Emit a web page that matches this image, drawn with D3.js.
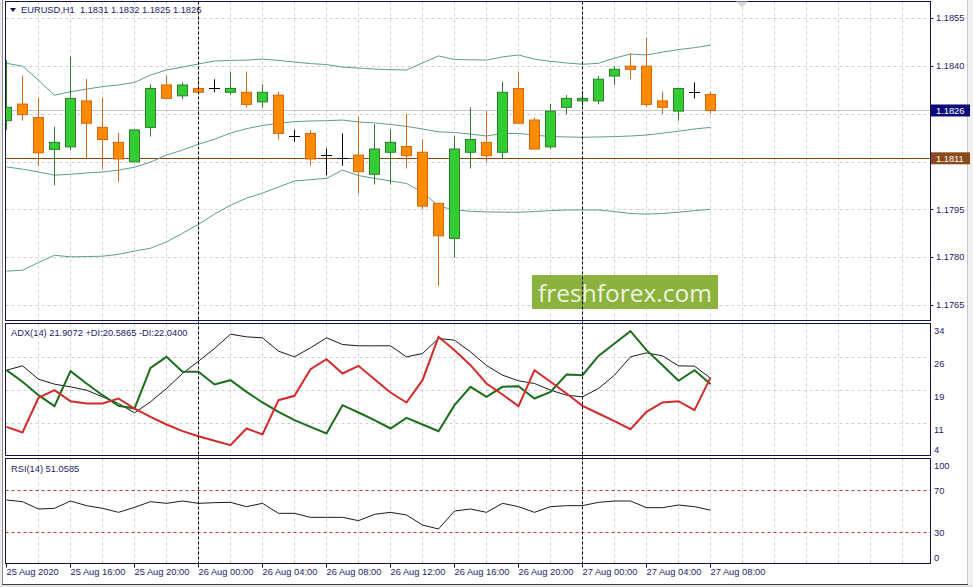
<!DOCTYPE html>
<html><head><meta charset="utf-8">
<script src="https://cdn.jsdelivr.net/npm/d3@7"></script>
<style>body{margin:0;background:#fff;} svg{display:block;font-family:"Liberation Sans",Arial,sans-serif;}</style>
</head><body><svg id="c" width="973" height="587"></svg>
<script>
// ---------------- DATA ----------------
const symbolTitle = "EURUSD,H1";
const lastOHLC = ["1.1831", "1.1832", "1.1825", "1.1826"];
const openP  = [1.18228,1.18280,1.18238,1.18138,1.18146,1.18290,1.18207,1.18160,1.18099,1.18207,1.18340,1.18306,1.18329,1.18329,1.18317,1.18317,1.18287,1.18308,1.18180,1.18188,1.18120,1.18110,1.18120,1.18060,1.18129,1.18147,1.18129,1.17969,1.17859,1.18129,1.18160,1.18129,1.18329,1.18230,1.18146,1.18270,1.18290,1.18290,1.18368,1.18399,1.18399,1.18290,1.18258,1.18319,1.1831];
const highP  = [1.18418,1.18369,1.18300,1.18209,1.18429,1.18359,1.18300,1.18190,1.18199,1.18342,1.18369,1.18348,1.18359,1.18358,1.18382,1.18382,1.18342,1.18319,1.18199,1.18199,1.18141,1.18188,1.18240,1.18217,1.18201,1.18249,1.18170,1.17969,1.18180,1.18270,1.18258,1.18350,1.18382,1.18238,1.18280,1.18308,1.18321,1.18368,1.18399,1.18439,1.18489,1.18319,1.18329,1.18348,1.1832];
const lowP   = [1.18199,1.18228,1.18087,1.18026,1.18136,1.18108,1.18076,1.18036,1.18099,1.18178,1.18298,1.18296,1.18317,1.18317,1.18308,1.18269,1.18269,1.18169,1.18162,1.18087,1.18057,1.18087,1.18000,1.18028,1.18028,1.18078,1.17950,1.17709,1.17798,1.18078,1.18099,1.18108,1.18220,1.18139,1.18138,1.18248,1.18272,1.18279,1.18340,1.18358,1.18270,1.18248,1.18228,1.18298,1.1825];
const closeP = [1.18270,1.18247,1.18127,1.18160,1.18298,1.18220,1.18169,1.18108,1.18199,1.18329,1.18298,1.18340,1.18317,1.18329,1.18329,1.18279,1.18317,1.18188,1.18180,1.18108,1.18120,1.18110,1.18068,1.18139,1.18160,1.18118,1.17960,1.17867,1.18139,1.18169,1.18118,1.18317,1.18220,1.18139,1.18258,1.18298,1.18298,1.18358,1.18389,1.18389,1.18279,1.18270,1.18329,1.18319,1.1826];
const bbUpper  = [1.18408,1.18399,1.18355,1.18308,1.18319,1.18327,1.18335,1.18340,1.18348,1.18371,1.18387,1.18396,1.18406,1.18415,1.18417,1.18418,1.18421,1.18417,1.18412,1.18407,1.18404,1.18396,1.18393,1.18390,1.18388,1.18387,1.18409,1.18431,1.18420,1.18419,1.18418,1.18428,1.18434,1.18421,1.18414,1.18409,1.18405,1.18408,1.18424,1.18437,1.18434,1.18443,1.18451,1.18457,1.18465];
const bbMiddle = [1.18083,1.18076,1.18067,1.18057,1.18060,1.18064,1.18067,1.18073,1.18082,1.18098,1.18120,1.18136,1.18154,1.18170,1.18189,1.18203,1.18213,1.18220,1.18225,1.18227,1.18228,1.18230,1.18224,1.18221,1.18216,1.18210,1.18202,1.18193,1.18191,1.18186,1.18180,1.18188,1.18188,1.18183,1.18178,1.18177,1.18176,1.18177,1.18178,1.18180,1.18183,1.18189,1.18195,1.18202,1.18207];
const bbLower  = [1.17756,1.17759,1.17783,1.17806,1.17801,1.17802,1.17803,1.17809,1.17819,1.17828,1.17848,1.17875,1.17903,1.17935,1.17963,1.17985,1.18001,1.18020,1.18039,1.18043,1.18047,1.18073,1.18056,1.18047,1.18039,1.18031,1.18004,1.17960,1.17948,1.17944,1.17942,1.17941,1.17941,1.17943,1.17946,1.17948,1.17948,1.17948,1.17943,1.17937,1.17935,1.17937,1.17941,1.17946,1.17950];
const adxVals   = [23.75,24.75,21.68,20.53,19.91,19.15,17.61,16.08,13.93,16.46,19.53,22.98,25.82,28.74,32.04,31.43,31.20,28.13,26.82,28.90,31.20,29.66,29.36,29.36,29.36,26.82,27.59,31.05,30.66,27.97,24.83,22.60,21.30,20.68,19.15,17.99,17.61,19.53,22.60,26.82,27.74,27.05,24.75,24.67,21.91];
const plusDI    = [23.75,21.07,17.99,15.46,23.52,20.68,17.99,15.54,14.92,24.29,26.82,23.37,23.37,20.45,21.45,18.76,16.31,14.16,12.24,10.70,9.17,15.69,14.00,12.24,10.32,12.77,11.24,9.70,15.69,19.91,17.61,19.91,20.07,17.23,18.76,22.75,22.60,27.05,29.89,32.73,28.36,24.90,21.30,23.75,20.59];
const minusDI   = [10.70,9.40,17.38,19.15,16.61,16.08,16.08,17.23,14.92,13.01,11.24,9.70,8.55,7.48,6.48,10.32,8.94,16.84,17.84,23.98,26.29,22.98,24.75,21.68,18.61,16.31,21.45,31.43,28.36,24.90,20.68,18.15,15.46,23.75,21.07,18.38,15.54,13.77,12.01,10.16,14.16,16.31,16.61,14.54,22.04];
const rsiVals   = [60.76,59.17,52.19,52.83,59.81,55.37,52.83,49.02,53.78,59.17,57.59,59.81,57.59,58.22,58.54,54.41,57.59,48.06,48.06,44.25,44.25,44.25,41.08,47.11,49.02,46.48,36.95,33.14,50.29,52.19,49.02,57.59,54.41,49.02,54.41,55.37,55.37,58.54,59.81,59.81,53.46,53.46,56.00,54.41,51.06];
const xTickBars   = [0,4,8,12,16,20,24,28,32,36,40,44];
const xTickLabels = ["25 Aug 2020","25 Aug 16:00","25 Aug 20:00","26 Aug 00:00","26 Aug 04:00","26 Aug 08:00","26 Aug 12:00","26 Aug 16:00","26 Aug 20:00","27 Aug 00:00","27 Aug 04:00","27 Aug 08:00"];
const separatorBars = [12, 36];
const priceTicks = [1.1855, 1.1840, 1.1825, 1.1810, 1.1795, 1.1780, 1.1765];
const adxTicks = [34.5, 26.9, 19.3, 11.7, 4.1];
const adxTickLabels = ["34", "26", "19", "11", "4"];
const rsiTicks = [100, 70, 30, 0];
const rsiLevels = [70, 30];
const bidPrice = 1.1826;
const hLinePrice = 1.1811;
const adxTitle = "ADX(14) 21.9072 +DI:20.5865 -DI:22.0400";
const rsiTitle = "RSI(14) 51.0585";
const watermark = "freshforex.com";

// ---------------- LAYOUT ----------------
const svg = d3.select("#c");
const L = 5.5, R = 930.5;
const P = {
  main: {top: 1.5, bottom: 320.5},
  adx:  {top: 323.5, bottom: 455.5},
  rsi:  {top: 458.5, bottom: 563.5}
};
const navy = "#12124e";
const txt = "#1b1b6a";
const fs = "9.3px";

const x = d3.scaleLinear().domain([0, 1]).range([6, 22]);
const y = d3.scaleLinear().domain([1.1765, 1.1855]).range([305, 18]);
const yA = d3.scaleLinear().domain([4.1, 34.5]).range([455.5, 323.5]);
const yR = d3.scaleLinear().domain([0, 100]).range([563.8, 458.8]);

// frame
svg.append("rect").attr("x",0).attr("y",0).attr("width",973).attr("height",587).attr("fill","#fff");
svg.append("rect").attr("x",0).attr("y",0).attr("width",2).attr("height",587).attr("fill","#ececec");
svg.append("line").attr("x1",2.5).attr("x2",2.5).attr("y1",0).attr("y2",587).attr("stroke","#8a8a8a");
svg.append("rect").attr("x",968).attr("y",0).attr("width",5).attr("height",587).attr("fill","#f0f0f0");
svg.append("line").attr("x1",967.5).attr("x2",967.5).attr("y1",0).attr("y2",585).attr("stroke","#c8c8c8");
svg.append("rect").attr("x",0).attr("y",585).attr("width",973).attr("height",2).attr("fill","#e4e4e4");
svg.append("line").attr("x1",2).attr("x2",968).attr("y1",584.5).attr("y2",584.5).attr("stroke","#404040");

// clip paths
const defs = svg.append("defs");
Object.entries(P).forEach(([k,p]) => {
  defs.append("clipPath").attr("id","clip-"+k).append("rect")
    .attr("x",L).attr("y",p.top).attr("width",R-L).attr("height",p.bottom-p.top);
});

const gridColor = "#cfcfcf";
// vertical grid in all panels
const gridBars = d3.range(2, 58, 2).filter(b => x(b) < R);
Object.entries(P).forEach(([k,p]) => {
  svg.append("g").selectAll("line").data(gridBars).join("line")
    .attr("x1",d=>x(d)+0.5).attr("x2",d=>x(d)+0.5).attr("y1",p.top).attr("y2",p.bottom)
    .attr("stroke",gridColor).attr("stroke-dasharray","3,3");
});
// horizontal grid main
svg.append("g").selectAll("line").data(priceTicks).join("line")
  .attr("x1",L).attr("x2",R).attr("y1",d=>Math.round(y(d))+0.5).attr("y2",d=>Math.round(y(d))+0.5)
  .attr("stroke",gridColor).attr("stroke-dasharray","3,3");
// horizontal grid adx
svg.append("g").selectAll("line").data(adxTicks.slice(1,4)).join("line")
  .attr("x1",L).attr("x2",R).attr("y1",d=>Math.round(yA(d))+0.5).attr("y2",d=>Math.round(yA(d))+0.5)
  .attr("stroke",gridColor).attr("stroke-dasharray","3,3");

// bid line & horizontal line
svg.append("line").attr("x1",L).attr("x2",R).attr("y1",Math.round(y(bidPrice))+0.5).attr("y2",Math.round(y(bidPrice))+0.5)
  .attr("stroke","#c8c8c8");
svg.append("line").attr("x1",L).attr("x2",R).attr("y1",Math.round(y(hLinePrice))+0.5).attr("y2",Math.round(y(hLinePrice))+0.5)
  .attr("stroke","#8b4513").attr("stroke-width",1.2);

// main panel content
const gMain = svg.append("g").attr("clip-path","url(#clip-main)");
const bbColor = "#5a9f88";
[bbUpper, bbMiddle, bbLower].forEach(arr => {
  gMain.append("path").datum(arr)
    .attr("d", d3.line().x((d,i)=>x(i)+0.5).y(d=>y(d)))
    .attr("fill","none").attr("stroke",bbColor).attr("stroke-width",1);
});

const bars = openP.map((o,i)=>({i, o, h:highP[i], l:lowP[i], c:closeP[i]}));
const col = d => d.c > d.o ? {fill:"#32cd32", stroke:"#2b7f2b", wick:"#2b7f2b"}
             : d.c < d.o ? {fill:"#ff8c00", stroke:"#d9650f", wick:"#d2691e"}
             : {fill:"none", stroke:"#000", wick:"#000"};
const cg = gMain.append("g").selectAll("g").data(bars).join("g");
cg.append("line")
  .attr("x1",d=>Math.round(x(d.i))+0.5).attr("x2",d=>Math.round(x(d.i))+0.5)
  .attr("y1",d=>y(d.h)).attr("y2",d=>y(d.l))
  .attr("stroke",d=>col(d).wick).attr("stroke-width",1);
cg.filter(d=>d.c!==d.o).append("rect")
  .attr("x",d=>Math.round(x(d.i))-4.5).attr("width",10)
  .attr("y",d=>y(Math.max(d.o,d.c))).attr("height",d=>Math.max(1,y(Math.min(d.o,d.c))-y(Math.max(d.o,d.c))))
  .attr("fill",d=>col(d).fill).attr("stroke",d=>col(d).stroke).attr("stroke-width",1);
cg.filter(d=>d.c===d.o).append("line")
  .attr("x1",d=>Math.round(x(d.i))-5).attr("x2",d=>Math.round(x(d.i))+6)
  .attr("y1",d=>Math.round(y(d.o))+0.5).attr("y2",d=>Math.round(y(d.o))+0.5)
  .attr("stroke","#000").attr("stroke-width",1);

// watermark
svg.append("rect").attr("x",532).attr("y",275).attr("width",186).attr("height",34).attr("fill","#8cb23e");
svg.append("text").attr("x",625).attr("y",301.5).attr("text-anchor","middle")
  .attr("font-family","'Open Sans',sans-serif").attr("font-size","24.5px").attr("fill","#eef3df")
  .text(watermark);

// ADX panel
const gA = svg.append("g").attr("clip-path","url(#clip-adx)");
const lineA = d3.line().x((d,i)=>x(i)+0.5).y(d=>yA(d));
gA.append("path").datum(adxVals).attr("d",lineA).attr("fill","none").attr("stroke","#000").attr("stroke-width",0.9);
gA.append("path").datum(plusDI).attr("d",lineA).attr("fill","none").attr("stroke","#1b6e1b").attr("stroke-width",2);
gA.append("path").datum(minusDI).attr("d",lineA).attr("fill","none").attr("stroke","#d42a2a").attr("stroke-width",2);

// RSI panel
const gR = svg.append("g").attr("clip-path","url(#clip-rsi)");
gR.selectAll("line.lv").data(rsiLevels).join("line").attr("class","lv")
  .attr("x1",L).attr("x2",R).attr("y1",d=>Math.round(yR(d))+0.5).attr("y2",d=>Math.round(yR(d))+0.5)
  .attr("stroke","#c0392b").attr("stroke-dasharray","3,3");
gR.append("path").datum(rsiVals).attr("d",d3.line().x((d,i)=>x(i)+0.5).y(d=>yR(d)))
  .attr("fill","none").attr("stroke","#000").attr("stroke-width",0.9);

// period separators
svg.append("g").selectAll("line").data(separatorBars).join("line")
  .attr("x1",d=>x(d)+0.5).attr("x2",d=>x(d)+0.5).attr("y1",P.main.top).attr("y2",P.rsi.bottom)
  .attr("stroke","#000").attr("stroke-dasharray","3,2");

// panel borders
Object.values(P).forEach(p => {
  svg.append("rect").attr("x",L).attr("y",p.top).attr("width",R-L).attr("height",p.bottom-p.top)
    .attr("fill","none").attr("stroke",navy).attr("stroke-width",1);
});

// price axis labels (labels hidden under the price boxes are not drawn)
const boxPrices = [bidPrice, hLinePrice];
const visibleTicks = priceTicks.filter(t => boxPrices.every(b => Math.abs(y(t) - y(b)) > 12));
const ax = svg.append("g").attr("font-size",fs).attr("fill",txt);
ax.selectAll("text.p").data(visibleTicks).join("text").attr("class","p")
  .attr("x",936).attr("y",d=>y(d)).attr("dy","0.35em").text(d=>d.toFixed(4));
svg.append("g").selectAll("line").data(priceTicks).join("line")
  .attr("x1",R).attr("x2",R+3).attr("y1",d=>Math.round(y(d))+0.5).attr("y2",d=>Math.round(y(d))+0.5).attr("stroke",navy);
// price boxes
function priceBox(price, fill) {
  const yy = y(price);
  svg.append("rect").attr("x",931).attr("y",yy-6).attr("width",39).attr("height",12).attr("fill",fill);
  svg.append("text").attr("x",936).attr("y",yy).attr("dy","0.35em").attr("font-size",fs).attr("fill","#fff").text(price.toFixed(4));
}
priceBox(bidPrice, "#0a0a7a");
priceBox(hLinePrice, "#8b4a1a");

// ADX axis
ax.selectAll("text.a").data(adxTicks).join("text").attr("class","a")
  .attr("x",934).attr("y",(d,i)=> i===adxTicks.length-1 ? yA(d)-6 : yA(d)+7).attr("dy","0.35em")
  .text((d,i)=>adxTickLabels[i]);
// RSI axis
ax.selectAll("text.r").data(rsiTicks).join("text").attr("class","r")
  .attr("x",934).attr("y",d=> d===100 ? yR(d)+6.5 : d===0 ? yR(d)-6 : yR(d)).attr("dy","0.35em")
  .text(d=>d);

// time axis
svg.append("g").selectAll("line").data(xTickBars).join("line")
  .attr("x1",d=>x(d)+0.5).attr("x2",d=>x(d)+0.5).attr("y1",P.rsi.bottom).attr("y2",P.rsi.bottom+4).attr("stroke",navy);
ax.selectAll("text.t").data(xTickBars).join("text").attr("class","t")
  .attr("x",d=>x(d)+0.5).attr("y",572).attr("dy","0.35em").text((d,i)=>xTickLabels[i]);

// titles
svg.append("path").attr("d","M10,8 L16,8 L13,12 Z").attr("fill",navy);
svg.append("text").attr("x",21).attr("y",10).attr("dy","0.35em").attr("font-size",fs).attr("fill",txt)
  .attr("xml:space","preserve").text(symbolTitle + "  " + lastOHLC.join(" "));
svg.append("text").attr("x",11).attr("y",333).attr("dy","0.35em").attr("font-size",fs).attr("fill",txt).text(adxTitle);
svg.append("text").attr("x",11).attr("y",469).attr("dy","0.35em").attr("font-size",fs).attr("fill",txt).text(rsiTitle);

// shift marker
svg.append("path").attr("d","M736,1.5 L748,1.5 L742,7.5 Z").attr("fill","#d8d8d8");
</script></body></html>
